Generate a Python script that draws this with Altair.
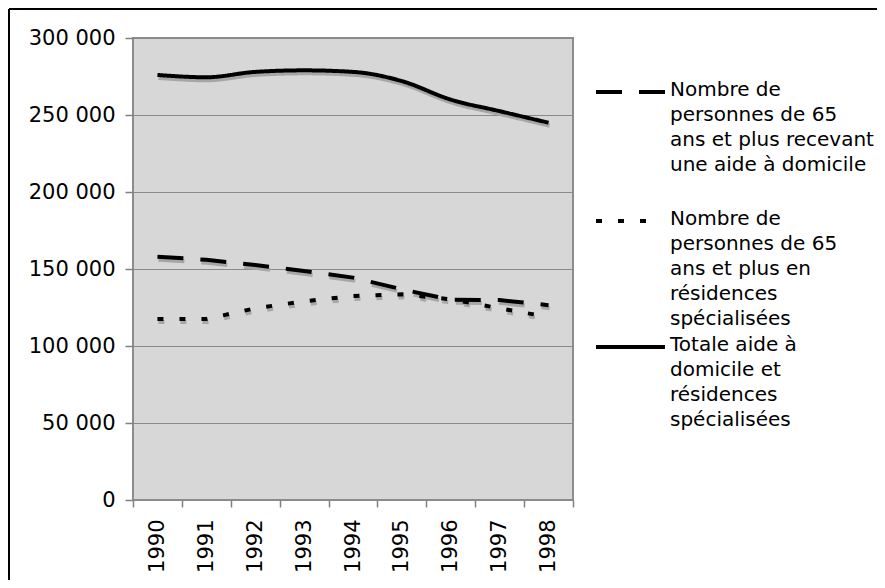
import altair as alt
import pandas as pd

years = ["1990", "1991", "1992", "1993", "1994", "1995", "1996", "1997", "1998"]
s_domicile = "Nombre de\npersonnes de 65\nans et plus recevant\nune aide à domicile"
s_residences = "Nombre de\npersonnes de 65\nans et plus en\nrésidences\nspécialisées"
s_total = "Totale aide à\ndomicile et\nrésidences\nspécialisées"
series = [s_domicile, s_residences, s_total]
v_domicile = [158000, 156000, 152600, 148700, 144400, 136800, 130000, 129800, 126500]
v_residences = [117500, 117500, 124500, 129000, 132500, 133600, 130300, 124500, 118800]
v_total = [276000, 274500, 278000, 279000, 278000, 272000, 260000, 252500, 245000]
values = [v_domicile, v_residences, v_total]

rows = []
for s, vals in zip(series, values):
    for y, v in zip(years, vals):
        rows.append({"year": y, "series": s, "value": v})
df = pd.DataFrame(rows)

W, H = 440, 462
FONT = "DejaVu Sans"
FS = 21
FS_LEG = 20
dashes = {s_domicile: [26, 17], s_residences: [6, 16], s_total: [1, 0]}
interp = {s_domicile: "linear", s_residences: "linear", s_total: "monotone"}

x_enc = alt.X("year:N", sort=years,
              scale=alt.Scale(paddingInner=0, paddingOuter=0),
              axis=alt.Axis(title=None, labelAngle=270, labelAlign="right",
                            labelBaseline="middle", labelPadding=12,
                            tickBand="extent", tickSize=7, tickColor="#808080",
                            tickWidth=1.5, domain=False, grid=False,
                            labelFont=FONT, labelFontSize=FS, labelColor="black"))
y_enc = alt.Y("value:Q", scale=alt.Scale(domain=[0, 300000], nice=False),
              axis=alt.Axis(title=None, values=[0, 50000, 100000, 150000, 200000, 250000, 300000],
                            labelExpr="replace(format(datum.value, ','), ',', ' ')",
                            tickSize=8, tickColor="#808080", tickWidth=1.5,
                            labelPadding=10, domain=False,
                            grid=True, gridColor="#8a8a8a", gridWidth=1,
                            labelFont=FONT, labelFontSize=FS, labelColor="black"))

layers = []
for s in series:
    base = alt.Chart(df).transform_filter(alt.datum.series == s)
    shadow = base.mark_line(color="#a6a6a6", strokeWidth=4, strokeDash=dashes[s],
                            interpolate=interp[s], yOffset=3, xOffset=1).encode(x=x_enc, y=y_enc)
    line = base.mark_line(color="black", strokeWidth=4, strokeDash=dashes[s],
                          interpolate=interp[s]).encode(x=x_enc, y=y_enc)
    layers += [shadow, line]

# legend
leg_sym_y = [54, 183, 309]
leg_sym_x2 = [532, 513, 532]
leg_df = pd.DataFrame({"series": series})
for s, sy, sx2 in zip(series, leg_sym_y, leg_sym_x2):
    b = alt.Chart(leg_df).transform_filter(alt.datum.series == s)
    layers.append(b.mark_rule(color="black", strokeWidth=4, strokeDash=dashes[s]).encode(
        x=alt.value(463), x2=alt.value(sx2), y=alt.value(sy)))
    layers.append(b.mark_text(align="left", baseline="top", lineBreak="\n", lineHeight=25,
                              font=FONT, fontSize=FS_LEG, color="black").encode(
        x=alt.value(537), y=alt.value(sy - 12), text="series:N"))

# outer frame
frame_df = pd.DataFrame({"k": [1]})
layers.append(alt.Chart(frame_df).mark_rule(color="black", strokeWidth=2, clip=False).encode(
    x=alt.value(-124), x2=alt.value(745), y=alt.value(-29)))
layers.append(alt.Chart(frame_df).mark_rule(color="black", strokeWidth=2, clip=False).encode(
    x=alt.value(-124), y=alt.value(-29), y2=alt.value(545)))

chart = alt.layer(*layers).properties(
    width=W, height=H,
    autosize=alt.AutoSizeParams(type="none"),
    padding={"left": 125, "top": 30, "right": 304, "bottom": 80},
    background="white",
).configure_view(fill="#d7d7d7", stroke="#8c8c8c", strokeWidth=2)

chart.save("out.html", embed_options={"renderer": "svg", "actions": False})
